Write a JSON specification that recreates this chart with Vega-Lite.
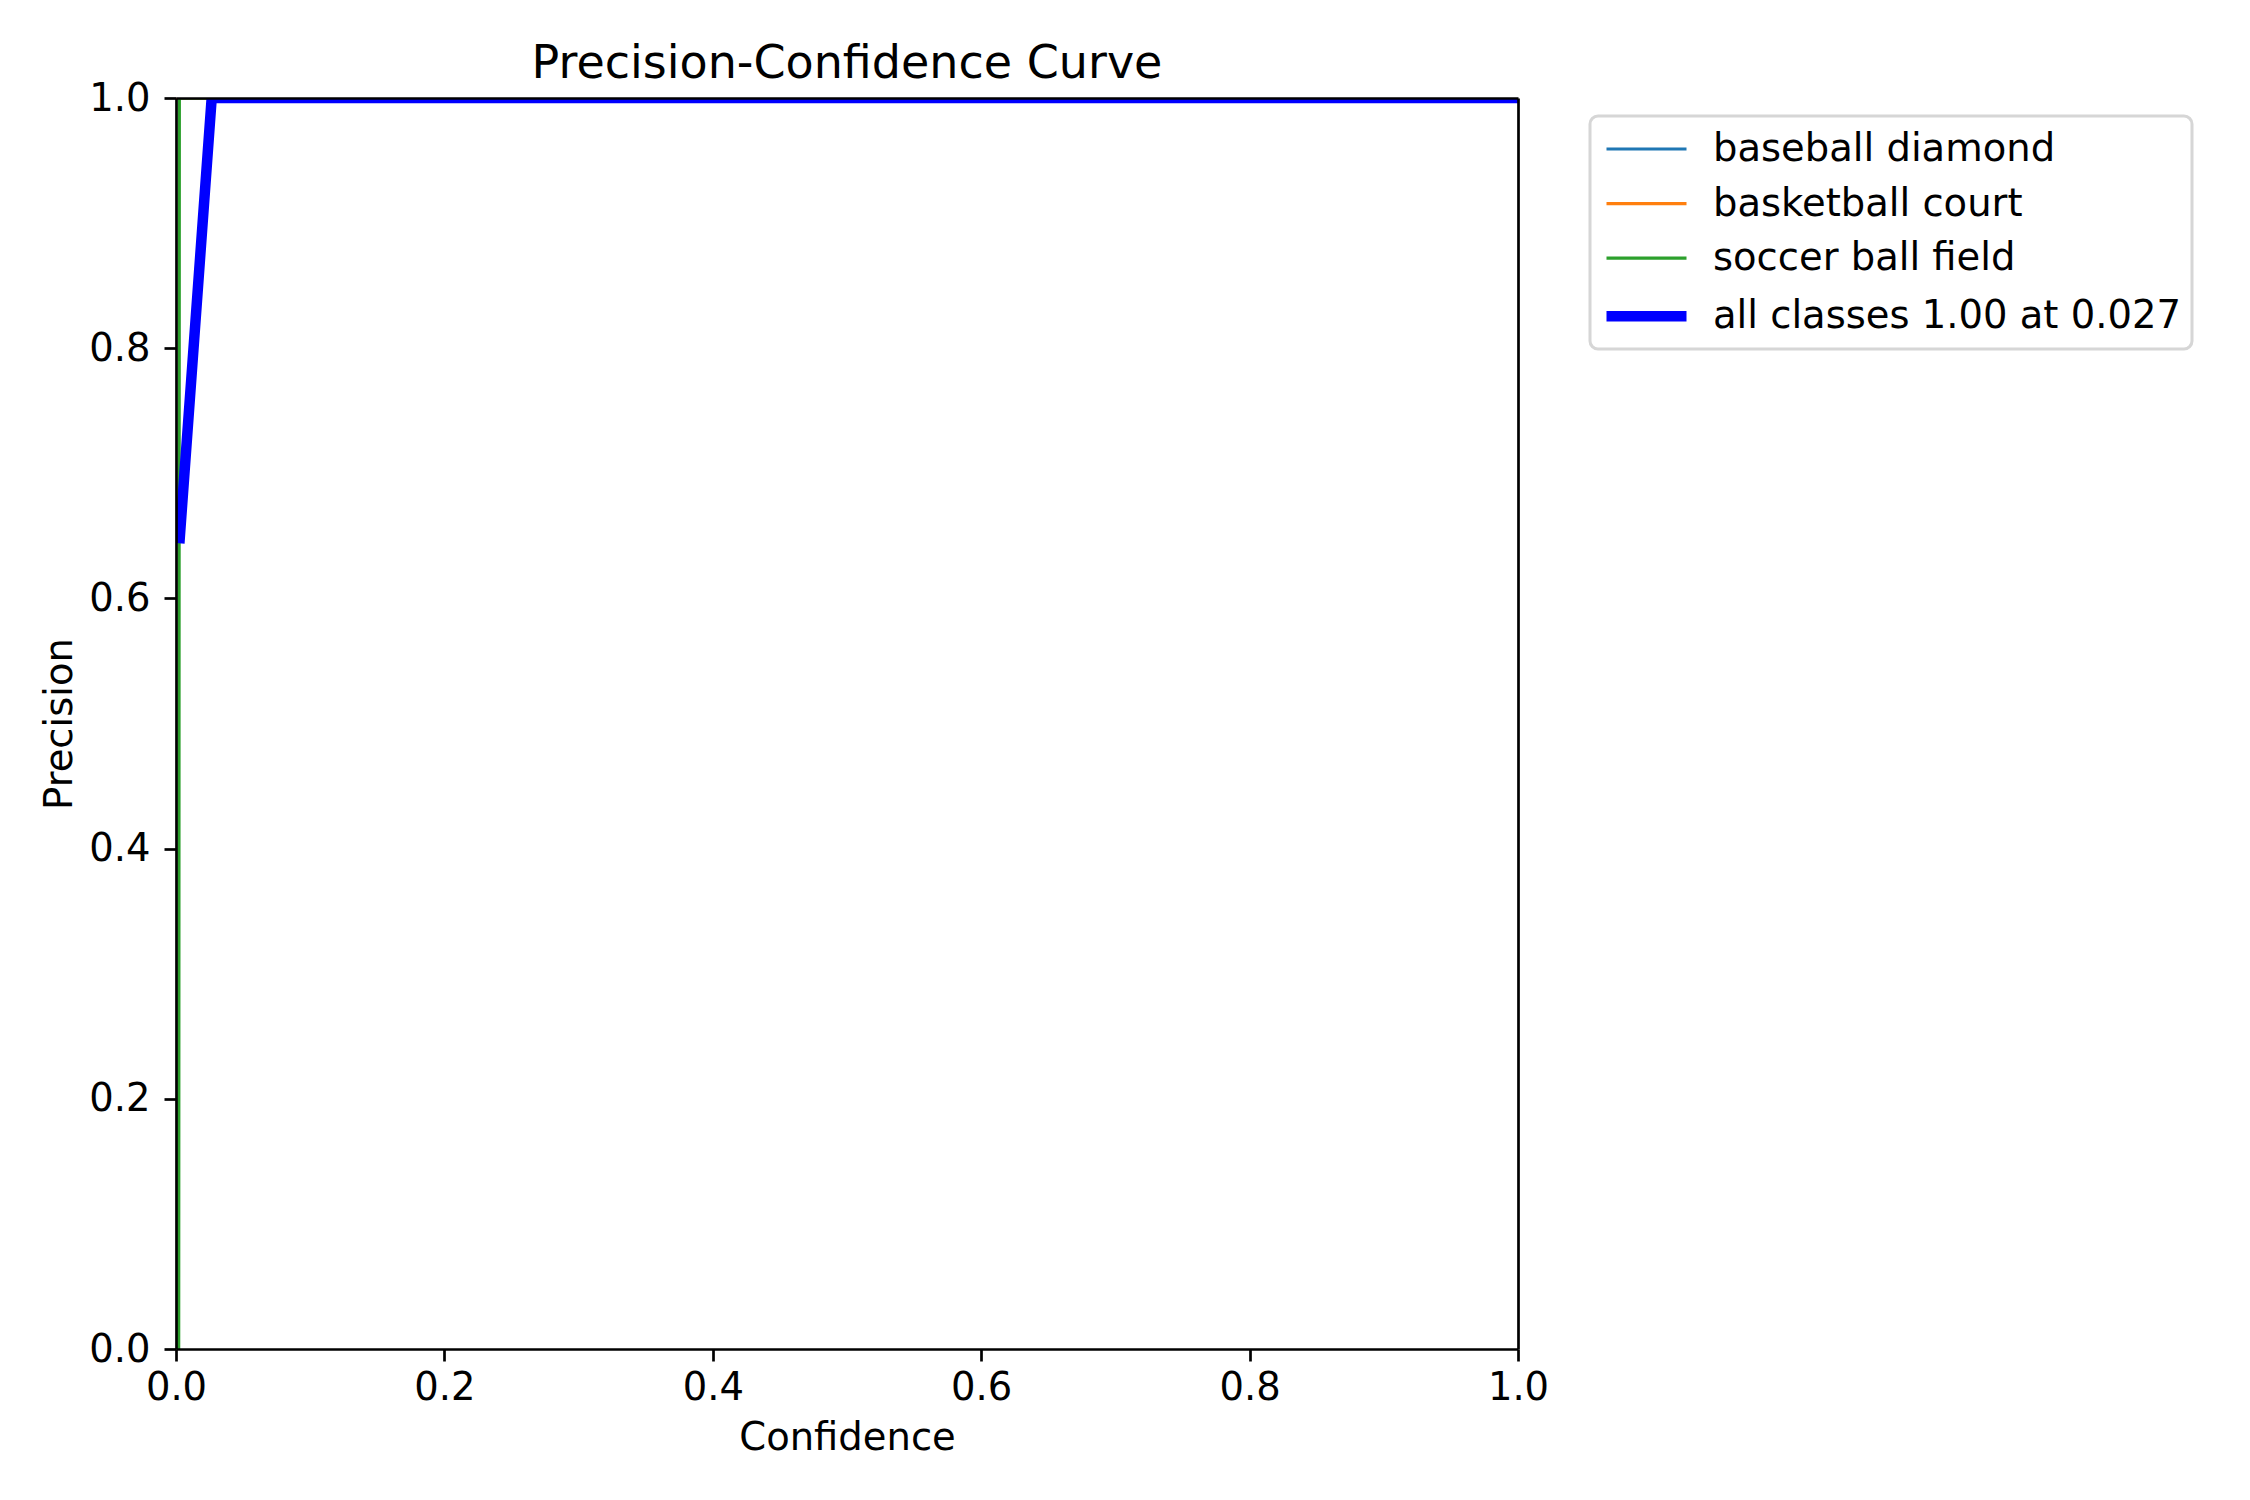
{
  "$schema": "https://vega.github.io/schema/vega-lite/v6.json",
  "width": 1342,
  "height": 1251,
  "autosize": "none",
  "padding": {"left": 176, "top": 98, "right": 732, "bottom": 151},
  "background": "white",
  "title": {
    "text": "Precision-Confidence Curve",
    "fontSize": 46,
    "fontWeight": "normal",
    "font": "DejaVu Sans",
    "color": "black",
    "anchor": "middle",
    "offset": -9
  },
  "data": {
    "values": [
      {"conf": 0.0, "precision": 1.0, "series": "baseball diamond"},
      {"conf": 1.0, "precision": 1.0, "series": "baseball diamond"},
      {"conf": 0.0, "precision": 1.0, "series": "basketball court"},
      {"conf": 1.0, "precision": 1.0, "series": "basketball court"},
      {"conf": 0.002, "precision": 0.0, "series": "soccer ball field"},
      {"conf": 0.0025, "precision": 1.0, "series": "soccer ball field"},
      {"conf": 1.0, "precision": 1.0, "series": "soccer ball field"},
      {"conf": 0.0025, "precision": 0.644, "series": "all classes 1.00 at 0.027"},
      {"conf": 0.0266, "precision": 1.0, "series": "all classes 1.00 at 0.027"},
      {"conf": 1.0, "precision": 1.0, "series": "all classes 1.00 at 0.027"}
    ]
  },
  "layer": [
    {
      "mark": {"type": "line", "clip": true, "strokeCap": "butt"},
      "encoding": {
        "x": {
          "field": "conf",
          "type": "quantitative",
          "scale": {"domain": [0, 1], "nice": false, "zero": false},
          "axis": {
            "orient": "bottom",
            "title": "Confidence",
            "values": [0, 0.2, 0.4, 0.6, 0.8, 1.0],
            "format": ".1f",
            "grid": false,
            "zindex": 1,
            "labelFlush": false,
            "labelOverlap": false,
            "labelPadding": 8,
            "titlePadding": 13
          }
        },
        "y": {
          "field": "precision",
          "type": "quantitative",
          "scale": {"domain": [0, 1], "nice": false, "zero": false},
          "axis": {
            "orient": "left",
            "title": "Precision",
            "values": [0, 0.2, 0.4, 0.6, 0.8, 1.0],
            "format": ".1f",
            "grid": false,
            "zindex": 1,
            "labelFlush": false,
            "labelOverlap": false,
            "labelPadding": 14,
            "titlePadding": 9
          }
        },
        "color": {
          "field": "series",
          "type": "nominal",
          "scale": {
            "domain": ["baseball diamond", "basketball court", "soccer ball field", "all classes 1.00 at 0.027"],
            "range": ["#1f77b4", "#ff7f0e", "#2ca02c", "#0000ff"]
          },
          "legend": {
            "title": null,
            "orient": "none",
            "legendX": 1414,
            "legendY": 18,
            "symbolType": "M-1,0H3",
            "symbolSize": 1600,
            "labelFontSize": 38.5,
            "labelFont": "DejaVu Sans",
            "labelColor": "black",
            "labelOffset": 61,
            "rowPadding": 12.6,
            "padding": 11,
            "fillColor": "white",
            "strokeColor": "#d6d6d6",
            "cornerRadius": 8,
            "labelLimit": 1000
          }
        },
        "strokeWidth": {
          "field": "series",
          "type": "nominal",
          "scale": {
            "type": "ordinal",
            "domain": ["baseball diamond", "basketball court", "soccer ball field", "all classes 1.00 at 0.027"],
            "range": [3.2, 3.2, 3.2, 10.5]
          },
          "legend": {
            "title": null,
            "orient": "none",
            "legendX": 1414,
            "legendY": 18,
            "symbolType": "M-1,0H3",
            "symbolSize": 1600,
            "labelFontSize": 38.5,
            "labelFont": "DejaVu Sans",
            "labelColor": "black",
            "labelOffset": 61,
            "rowPadding": 12.6,
            "padding": 11,
            "fillColor": "white",
            "strokeColor": "#d6d6d6",
            "cornerRadius": 8,
            "labelLimit": 1000
          }
        }
      }
    },
    {
      "mark": {"type": "line", "opacity": 0, "clip": true},
      "encoding": {
        "x": {
          "field": "conf",
          "type": "quantitative",
          "axis": {"orient": "top", "labels": false, "ticks": false, "title": null, "grid": false, "zindex": 1}
        },
        "y": {
          "field": "precision",
          "type": "quantitative",
          "axis": {"orient": "right", "labels": false, "ticks": false, "title": null, "grid": false, "zindex": 1}
        },
        "detail": {"field": "series", "type": "nominal"}
      }
    }
  ],
  "resolve": {"axis": {"x": "independent", "y": "independent"}},
  "config": {
    "font": "DejaVu Sans",
    "view": {"stroke": null},
    "legend": {"strokeWidth": 3},
    "axis": {
      "labelFont": "DejaVu Sans",
      "titleFont": "DejaVu Sans",
      "labelFontSize": 38.5,
      "titleFontSize": 38.5,
      "titleFontWeight": "normal",
      "labelColor": "black",
      "titleColor": "black",
      "domainColor": "black",
      "domainWidth": 2.7,
      "tickColor": "black",
      "tickWidth": 2.7,
      "tickSize": 12
    }
  }
}
